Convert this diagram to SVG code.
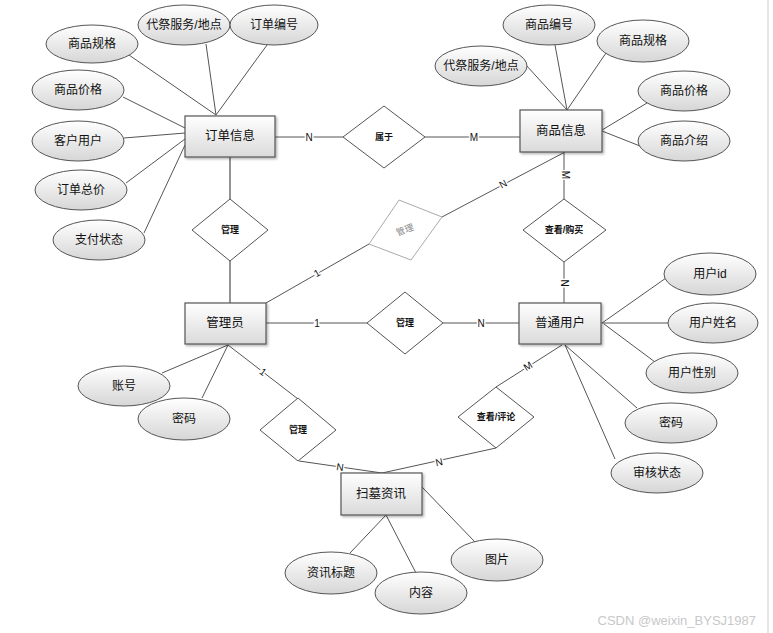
<svg xmlns="http://www.w3.org/2000/svg" width="773" height="633" viewBox="0 0 773 633">
<defs>
<linearGradient id="eg" x1="0" y1="0" x2="0" y2="1"><stop offset="0" stop-color="#ffffff"/><stop offset="1" stop-color="#d6d6d6"/></linearGradient>
<linearGradient id="rg" x1="0" y1="0" x2="0" y2="1"><stop offset="0" stop-color="#ffffff"/><stop offset="1" stop-color="#dadada"/></linearGradient>
<filter id="sh" x="-10%" y="-10%" width="130%" height="140%"><feDropShadow dx="1.5" dy="1.5" stdDeviation="1" flood-color="#000" flood-opacity="0.3"/></filter>
</defs>
<style>
.bg{fill:#fff}
.ent{fill:url(#rg);stroke:#555;stroke-width:1.2;filter:url(#sh)}
.att{fill:url(#eg);stroke:#555;stroke-width:1}
.rel{fill:#fff;stroke:#555;stroke-width:1}
.relg{fill:#fff;stroke:#aaa;stroke-width:1}
.ln{stroke:#555;stroke-width:1;fill:none}
.lnt{stroke:#888;stroke-width:1.8;fill:none}
text{font-family:"Liberation Sans","Noto Sans CJK SC",sans-serif;fill:#111;text-anchor:middle;dominant-baseline:central}
.et{font-size:12.5px}
.at{font-size:12px}
.rt{font-size:9px;font-weight:bold}
.lb{font-size:10px;paint-order:stroke;stroke:#fff;stroke-width:3}
.wm{font-size:13px;fill:#c8c8c8;text-anchor:end}
</style>
<rect class="bg" x="0" y="0" width="773" height="633"/>
<line x1="768" y1="0" x2="768" y2="633" stroke="#ccc" stroke-width="1"/>
<g id="connectors">
<line class="ln" x1="129" y1="55" x2="216" y2="115"/>
<line class="ln" x1="206" y1="44" x2="216" y2="115"/>
<line class="ln" x1="267" y1="45" x2="216" y2="115"/>
<line class="ln" x1="123" y1="97" x2="185" y2="128"/>
<line class="ln" x1="124" y1="138" x2="185" y2="133"/>
<line class="ln" x1="126" y1="183" x2="185" y2="139"/>
<line class="ln" x1="144" y1="233" x2="185" y2="145"/>
<line class="ln" x1="526" y1="65" x2="567" y2="110"/>
<line class="ln" x1="555" y1="45" x2="567" y2="110"/>
<line class="ln" x1="606" y1="53" x2="567" y2="110"/>
<line class="ln" x1="647" y1="103" x2="602" y2="130"/>
<line class="ln" x1="640" y1="146" x2="602" y2="131" stroke-width="1.6"/>
<line class="ln" x1="162" y1="373" x2="228" y2="345"/>
<line class="ln" x1="202" y1="398" x2="228" y2="345"/>
<line class="ln" x1="666" y1="278" x2="602" y2="323"/>
<line class="ln" x1="668" y1="323" x2="602" y2="323"/>
<line class="ln" x1="655" y1="362" x2="604" y2="324"/>
<line class="ln" x1="637" y1="408" x2="565" y2="345"/>
<line class="ln" x1="615" y1="459" x2="565" y2="345"/>
<line class="ln" x1="350" y1="553" x2="386" y2="515"/>
<line class="ln" x1="416" y1="573" x2="386" y2="515"/>
<line class="ln" x1="475" y1="542" x2="422" y2="487"/>
<line class="ln" x1="275" y1="137" x2="343" y2="137"/>
<line class="ln" x1="425" y1="137" x2="520" y2="137"/>
<line class="lnt" x1="230" y1="157" x2="230" y2="199"/>
<line class="lnt" x1="230" y1="261" x2="230" y2="303"/>
<line class="ln" x1="565" y1="152" x2="442" y2="217"/>
<line class="ln" x1="369" y1="244" x2="266" y2="303"/>
<line class="ln" x1="564" y1="152" x2="564" y2="199"/>
<line class="ln" x1="564" y1="262" x2="564" y2="303"/>
<line class="ln" x1="266" y1="323" x2="367" y2="323"/>
<line class="ln" x1="443" y1="323" x2="519" y2="323"/>
<line class="ln" x1="228" y1="345" x2="298" y2="399"/>
<line class="ln" x1="299" y1="461" x2="382" y2="473"/>
<line class="ln" x1="496" y1="448" x2="382" y2="473"/>
<line class="ln" x1="562" y1="345" x2="496" y2="387"/>
<text class="lb" x="309" y="137">N</text>
<text class="lb" x="474" y="137">M</text>
<text class="lb" x="503" y="184" transform="rotate(-28 503 184)">N</text>
<text class="lb" x="317" y="273" transform="rotate(-30 317 273)">1</text>
<text class="lb" x="565" y="175" transform="rotate(90 565 175)">M</text>
<text class="lb" x="564" y="283" transform="rotate(90 564 283)">N</text>
<text class="lb" x="317" y="323">1</text>
<text class="lb" x="481" y="323">N</text>
<text class="lb" x="263" y="372" transform="rotate(37 263 372)">1</text>
<text class="lb" x="340" y="467" transform="rotate(8 340 467)">N</text>
<text class="lb" x="439" y="462" transform="rotate(-12 439 462)">N</text>
<text class="lb" x="528" y="366" transform="rotate(-32 528 366)">M</text>
</g>
<g id="e-order"><rect class="ent" x="185" y="116" width="90" height="41"/><text class="et" x="230" y="136">订单信息</text></g>
<g id="e-goods"><rect class="ent" x="520" y="110" width="82" height="42"/><text class="et" x="561" y="131">商品信息</text></g>
<g id="e-admin"><rect class="ent" x="185" y="303" width="81" height="41"/><text class="et" x="225" y="323">管理员</text></g>
<g id="e-user"><rect class="ent" x="519" y="303" width="82" height="41"/><text class="et" x="560" y="323">普通用户</text></g>
<g id="e-news"><rect class="ent" x="341" y="473" width="81" height="42"/><text class="et" x="381" y="494">扫墓资讯</text></g>
<g id="r-belong"><polygon class="rel" points="384,106 425,137 384,168 343,137"/><text class="rt" x="384" y="137">属于</text></g>
<g id="r-manage1"><polygon class="rel" points="230,199 268,230 230,261 192,230"/><text class="rt" x="230" y="230">管理</text></g>
<g id="r-manage2"><polygon class="relg" points="399,200 442,217 411,260 369,244"/><text class="rt" x="405" y="230" style="fill:#888;font-weight:normal" transform="rotate(-20 405 230)">管理</text></g>
<g id="r-buy"><polygon class="rel" points="564,199 606,230 564,262 523,230"/><text class="rt" x="564" y="230">查看/购买</text></g>
<g id="r-manage3"><polygon class="rel" points="405,292 443,323 405,354 367,323"/><text class="rt" x="405" y="323">管理</text></g>
<g id="r-manage4"><polygon class="rel" points="298,398 336,430 298,461 260,430"/><text class="rt" x="298" y="430">管理</text></g>
<g id="r-comment"><polygon class="rel" points="496,387 534,417 496,448 458,417"/><text class="rt" x="496" y="417">查看/评论</text></g>
<g id="a-o1"><ellipse class="att" cx="92" cy="44" rx="46" ry="19"/><text class="at" x="92" y="44">商品规格</text></g>
<g id="a-o2"><ellipse class="att" cx="184" cy="25" rx="46" ry="20"/><text class="at" x="184" y="25">代祭服务/地点</text></g>
<g id="a-o3"><ellipse class="att" cx="274" cy="25" rx="44" ry="20"/><text class="at" x="274" y="25">订单编号</text></g>
<g id="a-o4"><ellipse class="att" cx="78" cy="90" rx="46" ry="20"/><text class="at" x="78" y="90">商品价格</text></g>
<g id="a-o5"><ellipse class="att" cx="78" cy="141" rx="46" ry="20"/><text class="at" x="78" y="141">客户用户</text></g>
<g id="a-o6"><ellipse class="att" cx="81" cy="190" rx="46" ry="20"/><text class="at" x="81" y="190">订单总价</text></g>
<g id="a-o7"><ellipse class="att" cx="99" cy="240" rx="46" ry="20"/><text class="at" x="99" y="240">支付状态</text></g>
<g id="a-g1"><ellipse class="att" cx="481" cy="66" rx="46" ry="20"/><text class="at" x="481" y="66">代祭服务/地点</text></g>
<g id="a-g2"><ellipse class="att" cx="549" cy="25" rx="46" ry="20"/><text class="at" x="549" y="25">商品编号</text></g>
<g id="a-g3"><ellipse class="att" cx="643" cy="41" rx="46" ry="21"/><text class="at" x="643" y="41">商品规格</text></g>
<g id="a-g4"><ellipse class="att" cx="684" cy="91" rx="46" ry="20"/><text class="at" x="684" y="91">商品价格</text></g>
<g id="a-g5"><ellipse class="att" cx="684" cy="141" rx="46" ry="20"/><text class="at" x="684" y="141">商品介绍</text></g>
<g id="a-a1"><ellipse class="att" cx="124" cy="386" rx="46" ry="20"/><text class="at" x="124" y="386">账号</text></g>
<g id="a-a2"><ellipse class="att" cx="184" cy="419" rx="46" ry="21"/><text class="at" x="184" y="419">密码</text></g>
<g id="a-u1"><ellipse class="att" cx="710" cy="274" rx="46" ry="21"/><text class="at" x="710" y="274">用户id</text></g>
<g id="a-u2"><ellipse class="att" cx="713" cy="323" rx="45" ry="20"/><text class="at" x="713" y="323">用户姓名</text></g>
<g id="a-u3"><ellipse class="att" cx="692" cy="373" rx="46" ry="20"/><text class="at" x="692" y="373">用户性别</text></g>
<g id="a-u4"><ellipse class="att" cx="671" cy="423" rx="46" ry="20"/><text class="at" x="671" y="423">密码</text></g>
<g id="a-u5"><ellipse class="att" cx="657" cy="473" rx="46" ry="20"/><text class="at" x="657" y="473">审核状态</text></g>
<g id="a-n1"><ellipse class="att" cx="331" cy="573" rx="46" ry="21"/><text class="at" x="331" y="573">资讯标题</text></g>
<g id="a-n2"><ellipse class="att" cx="421" cy="593" rx="46" ry="21"/><text class="at" x="421" y="593">内容</text></g>
<g id="a-n3"><ellipse class="att" cx="497" cy="560" rx="46" ry="21"/><text class="at" x="497" y="560">图片</text></g>
<text class="wm" x="756" y="620">CSDN @weixin_BYSJ1987</text>
</svg>
